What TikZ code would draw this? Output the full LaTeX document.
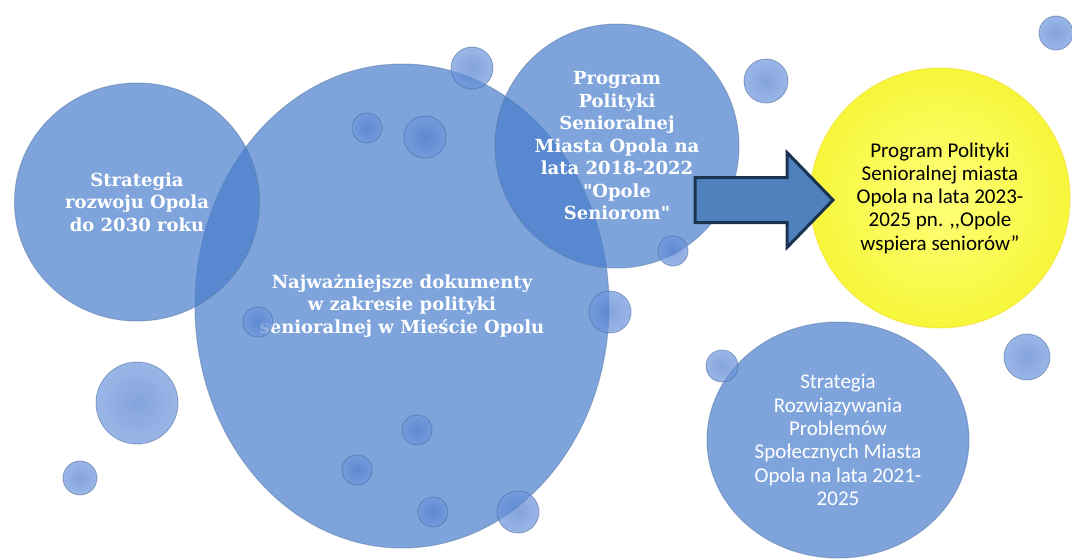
\documentclass[tikz,border=0pt]{standalone}
\usepackage{fontspec}
\setmainfont{DejaVu Serif}[Ligatures=TeXOff]
\newfontfamily\carlito{Carlito}
\usetikzlibrary{shapes.geometric,calc}
\definecolor{circblue}{RGB}{72,126,204}
\definecolor{rimblue}{HTML}{5A7AA8}
\definecolor{bubin}{RGB}{80,125,205}
\definecolor{bubout}{RGB}{112,152,222}
\definecolor{bubrim}{HTML}{3F5F8F}
\definecolor{arrowfill}{HTML}{4F81BD}
\definecolor{arrowline}{HTML}{1B3350}
\definecolor{yelin}{HTML}{FFFF7A}
\definecolor{yelout}{HTML}{F6F63A}
\begin{document}
\begin{tikzpicture}[x=1pt,y=-1pt,
  bigc/.style={circle,fill=circblue,fill opacity=0.7,text opacity=1,
    draw=rimblue,draw opacity=0.5,line width=1pt,inner sep=0pt,
    text=white,align=center,font=\fontsize{18}{22.5}\selectfont\bfseries},
  sansc/.style={bigc,font=\carlito\fontsize{21}{23.3}\selectfont},
  yelc/.style={circle,inner color=yelin,outer color=yelout,draw=yelout!80!orange,
    draw opacity=0.6,line width=1pt,inner sep=0pt,text=black,align=center,
    font=\carlito\fontsize{21}{23.2}\selectfont},
  bubble/.style={circle,inner sep=0pt,inner color=bubin,outer color=bubout,
    fill opacity=0.7,draw=bubrim,draw opacity=0.45,line width=0.9pt},
  blockarrow/.style={fill=arrowfill,draw=arrowline,line width=3pt,line join=miter}]
\useasboundingbox (0,0) rectangle (1072,560);
\clip (0,0) rectangle (1072,560);
\fill[white] (0,0) rectangle (1072,560);

% main circles
\node[bigc,shape=ellipse,minimum width=414pt,minimum height=484pt] (main) at (402,306)
  {Najważniejsze dokumenty\\w zakresie polityki\\senioralnej w Mieście Opolu};
\node[bigc,shape=ellipse,minimum width=245pt,minimum height=238pt] (strat) at (137,202)
  {Strategia\\rozwoju Opola\\do 2030 roku};
\node[bigc,minimum size=244pt] (prog) at (617,146)
  {Program\\Polityki\\Senioralnej\\Miasta Opola na\\lata 2018-2022\\"Opole\\Seniorom"};
\node[sansc,shape=ellipse,minimum width=262pt,minimum height=236pt] (rozw) at (838,440)
  {Strategia\\Rozwiązywania\\Problemów\\Społecznych Miasta\\Opola na lata 2021-\\2025};
\node[yelc,minimum size=260pt] (yel) at (940,198)
  {Program Polityki\\Senioralnej miasta\\Opola na lata 2023-\\2025 pn. ,,Opole\\wspiera seniorów”};

% block arrow
\coordinate (atail) at (695,200);
\coordinate (atip) at (833,200);
\draw[blockarrow] ($(atail)+(0,-22.5)$) -- ($(atip)+(-46,-22.5)$) -- ($(atip)+(-46,-47.5)$)
  -- (atip) -- ($(atip)+(-46,47.5)$) -- ($(atip)+(-46,22.5)$) -- ($(atail)+(0,22.5)$) -- cycle;

% bubbles
\foreach \n/\x/\y/\r in {b1/472/68/21, b2/766/81/22, b3/1056/33/17, b4/673/251/15,
  b5/367/128/15, b6/425/137/21, b7/258/322/15, b8/610/312/21, b9/417/430/15,
  b10/357/470/15, b11/433/512/15, b12/518/512/21, b13/137/403/41, b14/80/478/17,
  b15/722/366/16, b16/1027/357/23}
  \node[bubble,minimum size=2*\r pt] (\n) at (\x,\y) {};
\end{tikzpicture}
\end{document}
